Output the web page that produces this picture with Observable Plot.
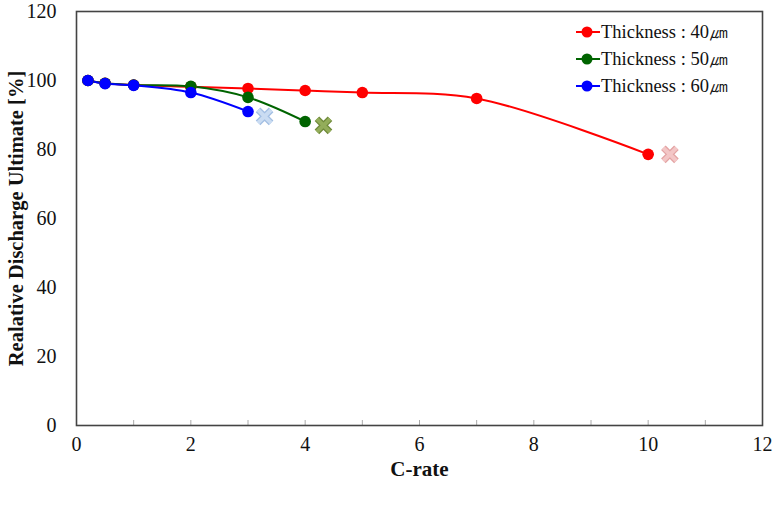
<!DOCTYPE html>
<html>
<head>
<meta charset="utf-8">
<script src="https://cdn.jsdelivr.net/npm/d3@7"></script>
<script src="https://cdn.jsdelivr.net/npm/@observablehq/plot@0.6"></script>
<style>
  body { margin: 0; background: #fff; }
  #wrap { position: relative; width: 778px; height: 508px; font-family: "Liberation Serif", "Times New Roman", serif; }
  #legend { position: absolute; left: 576px; top: 18px; font-size: 18.5px; color: #111; }
  .row { display: flex; align-items: center; height: 27px; white-space: nowrap; }
  .row svg { margin-right: 1px; }
</style>
</head>
<body>
<div id="wrap"></div>
<script>
const seriesNames = ["Thickness : 40㎛", "Thickness : 50㎛", "Thickness : 60㎛"];
const seriesColors = ["#ff0000", "#006400", "#0000ff"];
const crossFill = ["#f3c6c6", "#93ad5a", "#cadcf2"];
const crossEdge = ["#e3a3a3", "#6f8a3a", "#a3bfe3"];

const crate40 = [0.2, 0.5, 1, 2, 3, 4, 5, 7, 10];
const ret40   = [100, 99.2, 98.7, 98.2, 97.7, 97.1, 96.5, 94.8, 78.6];
const crate50 = [0.2, 0.5, 1, 2, 3, 4];
const ret50   = [100, 99.2, 98.7, 98.3, 95.1, 88.1];
const crate60 = [0.2, 0.5, 1, 2, 3];
const ret60   = [100, 99.1, 98.6, 96.5, 91.0];

const failCrate = [10.38, 4.32, 3.29];
const failRet   = [78.6, 87.0, 89.6];

const xTicks = [0, 2, 4, 6, 8, 10, 12];
const xMinor = [1, 2, 3, 4, 5, 6, 7, 8, 9, 10, 11];
const yTicks = [0, 20, 40, 60, 80, 100, 120];

const xLabel = "C-rate";
const yLabel = "Realative Discharge Ultimate [%]";

const sets = [[crate40, ret40], [crate50, ret50], [crate60, ret60]];
const data = sets.flatMap(([xs, ys], i) => xs.map((x, j) => ({series: seriesNames[i], x, y: ys[j]})));
const fails = failCrate.map((x, i) => ({series: seriesNames[i], x, y: failRet[i], fill: crossFill[i], edge: crossEdge[i]}));

const W = 778, H = 508, mT = 11, mB = 83;

const plot = Plot.plot({
  width: W, height: H,
  marginLeft: 76, marginRight: 16, marginTop: mT, marginBottom: mB,
  style: {fontFamily: "'Liberation Serif', 'Times New Roman', serif", fontSize: "20px", color: "#111", background: "#fff"},
  x: {domain: [0, 12]},
  y: {domain: [0, 120]},
  color: {domain: seriesNames, range: seriesColors},
  marks: [
    Plot.tickX(xMinor, {x: d => d, stroke: "#aaa", strokeWidth: 1, insetTop: H - mT - mB - 5}),
    Plot.axisX(xTicks, {tickSize: 0, tickPadding: 11, label: null, fontSize: 20}),
    Plot.axisY(yTicks, {tickSize: 0, tickPadding: 20, label: null, fontSize: 20}),
    Plot.frame({stroke: "#444", strokeWidth: 1.6}),
    Plot.line(data, {x: "x", y: "y", z: "series", stroke: "series", strokeWidth: 2, curve: "catmull-rom"}),
    Plot.dot(data, {x: "x", y: "y", fill: "series", r: 5.8}),
    Plot.dot(fails, {x: "x", y: "y", symbol: "times", r: 6, stroke: "edge", strokeWidth: 6.5}),
    Plot.dot(fails, {x: "x", y: "y", symbol: "times", r: 6, stroke: "fill", strokeWidth: 4}),
    Plot.text([xLabel], {frameAnchor: "bottom", dy: 50, text: d => d, fontWeight: "bold", fontSize: 21, fill: "#111"}),
    Plot.text([yLabel], {frameAnchor: "left", textAnchor: "middle", dx: -60, rotate: -90, text: d => d, fontWeight: "bold", fontSize: 20.5, fill: "#111"})
  ]
});
const wrap = document.getElementById("wrap");
wrap.appendChild(plot);

const legend = document.createElement("div");
legend.id = "legend";
seriesNames.forEach((name, i) => {
  const row = document.createElement("div");
  row.className = "row";
  row.innerHTML = `<svg width="24" height="14"><line x1="0" y1="7" x2="24" y2="7" stroke="${seriesColors[i]}" stroke-width="2"/><circle cx="11" cy="7" r="5.5" fill="${seriesColors[i]}"/></svg><span>${name}</span>`;
  legend.appendChild(row);
});
wrap.appendChild(legend);
</script>
</body>
</html>
